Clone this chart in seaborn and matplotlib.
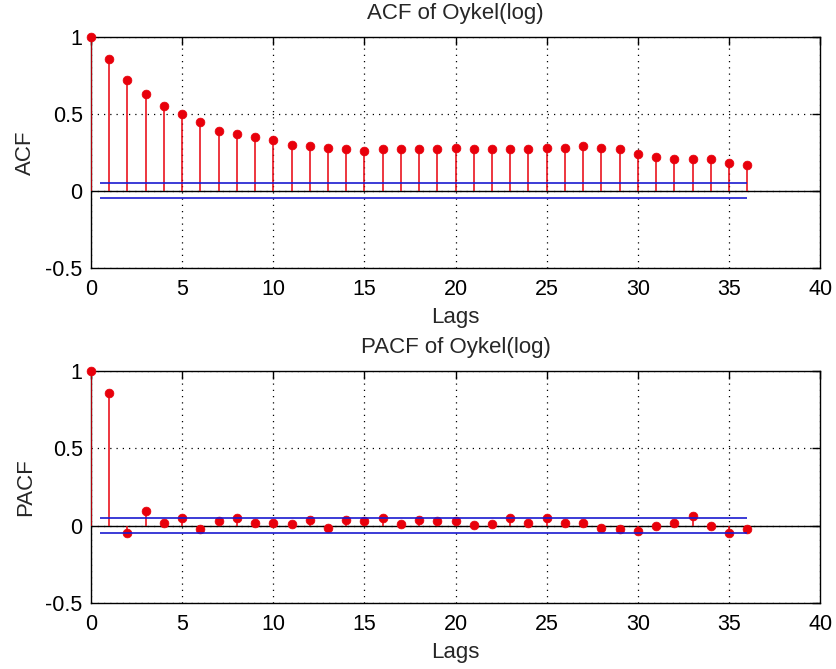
import numpy as np
import pandas as pd
import matplotlib
matplotlib.use("Agg")
import matplotlib.pyplot as plt
import seaborn as sns

# --- data ---
lags = list(range(0, 37))
acf_vals = [1.00, 0.86, 0.72, 0.63, 0.55, 0.50, 0.45, 0.39, 0.37, 0.35,
            0.33, 0.30, 0.29, 0.28, 0.27, 0.26, 0.27, 0.27, 0.27, 0.27,
            0.28, 0.27, 0.27, 0.27, 0.27, 0.28, 0.28, 0.29, 0.28, 0.27,
            0.24, 0.22, 0.21, 0.21, 0.21, 0.18, 0.17]
pacf_vals = [1.00, 0.86, -0.045, 0.095, 0.02, 0.05, -0.024, 0.028, 0.052, 0.02,
             0.02, 0.008, 0.039, -0.015, 0.039, 0.028, 0.05, 0.008, 0.039, 0.028,
             0.028, 0.002, 0.013, 0.05, 0.02, 0.05, 0.02, 0.02, -0.015, -0.024,
             -0.035, 0.0, 0.02, 0.063, 0.0, -0.045, -0.02]
conf_upper = 0.052
conf_lower = -0.046
conf_span = [0.5, 36]
x_ticks = [0, 5, 10, 15, 20, 25, 30, 35, 40]
y_ticks = [-0.5, 0, 0.5, 1]
y_ticklabels = ['-0.5', '0', '0.5', '1']
titles = ['ACF of Oykel(log)', 'PACF of Oykel(log)']
ylabels = ['ACF', 'PACF']

sns.set_theme(style="white")
plt.rcParams['font.family'] = ['Liberation Sans', 'DejaVu Sans']

fig = plt.figure(figsize=(8.36, 6.69), dpi=100)
ax_top = fig.add_axes([0.1089, 0.5994, 0.8721, 0.3453])
ax_bot = fig.add_axes([0.1089, 0.0987, 0.8721, 0.3467])

for ax, vals, title, ylab in zip([ax_top, ax_bot], [acf_vals, pacf_vals], titles, ylabels):
    df = pd.DataFrame({'lag': lags, 'value': vals})
    ax.set_xlim(0, 40)
    ax.set_ylim(-0.5, 1)
    ax.set_xticks(x_ticks)
    ax.set_yticks(y_ticks)
    ax.set_yticklabels(y_ticklabels)
    ax.grid(True, linestyle=(0, (1, 4)), color='black', linewidth=0.9)
    ax.axhline(0, color='black', linewidth=1, zorder=2)
    ax.vlines(df['lag'], 0, df['value'], color='#e8000b', linewidth=1.1, zorder=3)
    sns.scatterplot(data=df, x='lag', y='value', ax=ax, color='#e8000b',
                    edgecolor='#e8000b', s=40, zorder=4, clip_on=False)
    ax.hlines([conf_upper, conf_lower], conf_span[0], conf_span[1],
              color='#1a1ad0', linewidth=1.2, zorder=5)
    ax.set_title(title, fontsize=16, pad=13)
    ax.set_xlabel('Lags', fontsize=16, labelpad=5)
    ax.set_ylabel(ylab, fontsize=16, labelpad=7)
    ax.tick_params(direction='in', length=6, width=1, colors='black',
                   labelsize=15.5, top=True, right=True)
    ax.tick_params(axis='x', pad=8)
    ax.tick_params(axis='y', pad=6)
    for sp in ax.spines.values():
        sp.set_color('black')
        sp.set_linewidth(1)

fig.savefig('out.png', dpi=100, facecolor='white')
